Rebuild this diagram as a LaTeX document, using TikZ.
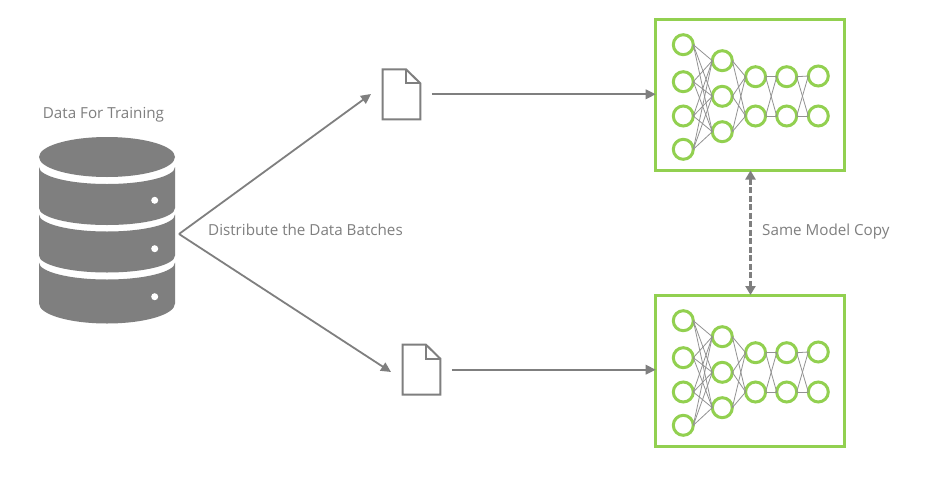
\documentclass[tikz,border=0pt]{standalone}
\usepackage{fontspec}
\setmainfont{Open Sans}
\usetikzlibrary{arrows.meta}
\definecolor{gr}{HTML}{7F7F7F}
\definecolor{grn}{HTML}{92D050}
\tikzset{
  lbl/.style={text=gr,inner sep=0pt,font=\fontsize{15.2}{18}\selectfont},
  neuron/.style={circle,draw=grn,line width=3pt,fill=white,minimum size=20pt,inner sep=0pt,outer sep=0pt},
  syn/.style={draw=gr!85,line width=0.8pt},
  netbox/.style={rectangle,draw=grn,line width=3pt,minimum width=189pt,minimum height=151pt,inner sep=0pt,outer sep=0pt},
  docbox/.style={rectangle,minimum width=37.6pt,minimum height=50pt,inner sep=0pt,outer sep=0pt},
  docline/.style={draw=gr,line width=2pt,line join=miter,fill=white},
  flow/.style={draw=gr,line width=1.8pt,-{Triangle[length=10pt,width=9.5pt]}},
  disk/.style={fill=gr,draw=none},
  dot/.style={circle,fill=white,minimum size=7pt,inner sep=0pt},
}
\newcommand{\NetDraw}[2]{%
  \node[netbox] (box#1) at (750.2,#2) {};
  \foreach \n/\px/\py in {a1/683.3/-50.3,a2/683.3/-13.3,a3/683.3/21,a4/683.3/54.3,
     b1/722.3/-34.3,b2/722.3/1.3,b3/722.3/36.7,
     c1/755.6/-18.3,c2/755.6/21,
     d1/786.7/-18.3,d2/786.7/21,
     e1/818.3/-19,e2/818.3/21}{
    \node[neuron] (#1\n) at (\px,#2+\py) {};
  }
  \foreach \s in {a1,a2,a3,a4}\foreach \t in {b1,b2,b3}{\draw[syn] (#1\s.east) -- (#1\t.west);}
  \foreach \s in {b1,b2,b3}\foreach \t in {c1,c2}{\draw[syn] (#1\s.east) -- (#1\t.west);}
  \foreach \s in {c1,c2}\foreach \t in {d1,d2}{\draw[syn] (#1\s.east) -- (#1\t.west);}
  \foreach \s in {d1,d2}\foreach \t in {e1,e2}{\draw[syn] (#1\s.east) -- (#1\t.west);}
}
\newcommand{\DocDraw}[3]{%
  \node[docbox] (#1) at (#2,#3) {};
  \draw[docline] (#1.north west) -- ([xshift=23.3pt]#1.north west) -- ([yshift=-14pt]#1.north east) -- (#1.south east) -- (#1.south west) -- cycle;
  \draw[docline,fill=none] ([xshift=23.3pt]#1.north west) -- ([xshift=23.3pt,yshift=-14pt]#1.north west) -- ([yshift=-14pt]#1.north east);
}
\begin{document}
\begin{tikzpicture}[x=1pt,y=-1pt]
\useasboundingbox (0,0) rectangle (935,477);
\fill[white] (0,0) rectangle (935,477);
% database
\fill[disk] (107,157) ellipse [x radius=68,y radius=20];
\foreach \T/\R in {167/17,214.5/17,262.5/20}{
  \fill[disk] (39,\T) arc[start angle=180,end angle=360,x radius=68,y radius=-17] -- (175,\T+41) arc[start angle=0,end angle=-180,x radius=68,y radius=-\R] -- cycle;
}
\node[dot] (dot1) at (154.7,200.3) {};
\node[dot] (dot2) at (154.7,248.7) {};
\node[dot] (dot3) at (154.7,296.7) {};
\node[lbl,anchor=base] (train) at (103.5,118) {Data For Training};
% documents
\DocDraw{doc1}{401.5}{94.3}
\DocDraw{doc2}{421.5}{369.7}
% networks
\NetDraw{n}{95}
\NetDraw{m}{371}
% connectors
\coordinate (src) at (179,234);
\coordinate (t1) at (371,94);
\coordinate (t2) at (391,372);
\draw[flow] (src) -- (t1);
\draw[flow] (src) -- (t2);
\draw[flow,shorten <=11.5pt] (doc1.east) -- (doc1.east -| boxn.west);
\draw[flow,shorten <=11.5pt] (doc2.east) -- (doc2.east -| boxm.west);
\coordinate (up) at (750.5,170.5);
\coordinate (dn) at (750.5,295);
\draw[draw=gr,line width=2.6pt,dash pattern=on 6pt off 2.5pt,{Triangle[length=9pt,width=10pt]}-{Triangle[length=9pt,width=10pt]}] (up) -- (dn);
\node[lbl,anchor=base west] (dist) at (208,235) {Distribute the Data Batches};
\node[lbl,anchor=base west] (same) at (762,235) {Same Model Copy};
\end{tikzpicture}
\end{document}
